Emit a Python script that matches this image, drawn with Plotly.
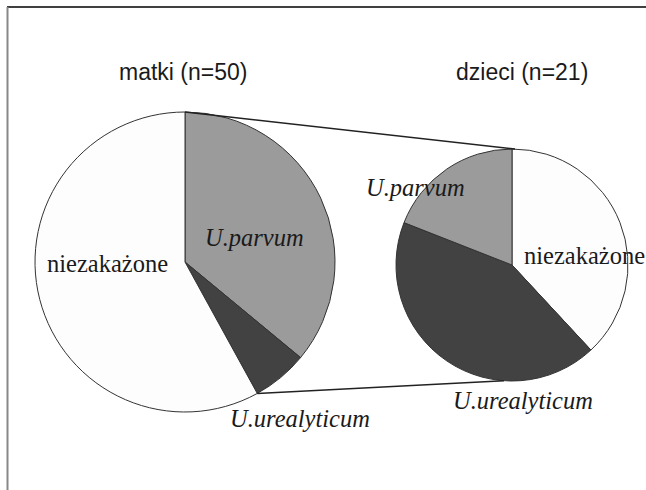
import math
import plotly.graph_objects as go

# ---- data ----
categories = ["U.parvum", "U.urealyticum", "niezakażone"]
matki_values = [18, 3, 29]     # n=50
dzieci_values = [4, 9, 8]      # n=21
group_titles = ["matki (n=50)", "dzieci (n=21)"]
slice_colors = ["#9b9b9b", "#424242", "#fdfdfd"]

W, H = 646, 490

def px(x):
    return x / W

def py(y):
    return 1 - y / H

# pie geometry (pixels)
L_cx, L_cy, L_r = 185, 262, 150
R_cx, R_cy, R_r = 512, 265, 116

fig = go.Figure()
fig.add_trace(go.Pie(
    labels=categories, values=matki_values, sort=False, direction="clockwise",
    rotation=0, textinfo="none", hoverinfo="label+value",
    marker=dict(colors=slice_colors, line=dict(color="#333333", width=1)),
    domain=dict(x=[px(L_cx - L_r), px(L_cx + L_r)], y=[py(L_cy + L_r), py(L_cy - L_r)]),
    showlegend=False,
))
# right pie: grey slice lies counter-clockwise from 12 o'clock -> draw reversed order clockwise
fig.add_trace(go.Pie(
    labels=categories[::-1], values=dzieci_values[::-1], sort=False, direction="clockwise",
    rotation=0, textinfo="none", hoverinfo="label+value",
    marker=dict(colors=slice_colors[::-1], line=dict(color="#333333", width=1)),
    domain=dict(x=[px(R_cx - R_r), px(R_cx + R_r)], y=[py(R_cy + R_r), py(R_cy - R_r)]),
    showlegend=False,
))

# connector lines (derived from pie geometry)
frac = (matki_values[0] + matki_values[1]) / sum(matki_values)
ang = 2 * math.pi * frac
lx2 = L_cx + L_r * math.sin(ang)
ly2 = L_cy - L_r * math.cos(ang)
ang_r = math.radians(184)
rx2 = R_cx + R_r * math.sin(ang_r)
ry2 = R_cy - R_r * math.cos(ang_r)

shapes = [
    dict(type="line", xref="paper", yref="paper",
         x0=px(L_cx), y0=py(L_cy - L_r), x1=px(R_cx + 3), y1=py(R_cy - R_r),
         line=dict(color="#222222", width=1.6)),
    dict(type="line", xref="paper", yref="paper",
         x0=px(lx2), y0=py(ly2), x1=px(rx2), y1=py(ry2),
         line=dict(color="#222222", width=1.6)),
    # frame
    dict(type="line", xref="paper", yref="paper",
         x0=px(7), y0=py(7), x1=px(W), y1=py(7),
         line=dict(color="#000000", width=1.5)),
    dict(type="line", xref="paper", yref="paper",
         x0=px(7.5), y0=py(7), x1=px(7.5), y1=py(H),
         line=dict(color="#888888", width=2)),
]

sans = dict(family="Liberation Sans, Arial, sans-serif", size=23, color="#1a1a1a")
serif = dict(family="Liberation Serif, Times New Roman, serif", size=24.5, color="#1a1a1a")

def ann(text, x, y, font, xanchor="center"):
    return dict(text=text, x=px(x), y=py(y), xref="paper", yref="paper",
                showarrow=False, font=font, xanchor=xanchor, yanchor="middle")

annotations = [
    ann(group_titles[0], 183, 72, sans),
    ann(group_titles[1], 522, 72, sans),
    ann("<i>" + categories[0] + "</i>", 254, 237, serif),
    ann(categories[2], 108, 263, serif),
    ann("<i>" + categories[1] + "</i>", 300, 418, serif),
    ann("<i>" + categories[0] + "</i>", 415, 188, serif),
    ann(categories[2], 522, 255, serif, xanchor="left"),
    ann("<i>" + categories[1] + "</i>", 523, 400, serif),
]

fig.update_layout(
    width=W, height=H,
    margin=dict(l=0, r=0, t=0, b=0),
    paper_bgcolor="white", plot_bgcolor="white",
    shapes=shapes, annotations=annotations,
)

fig.write_html("out.html", config={"displayModeBar": False},
               post_script="document.body.style.margin='0';")
